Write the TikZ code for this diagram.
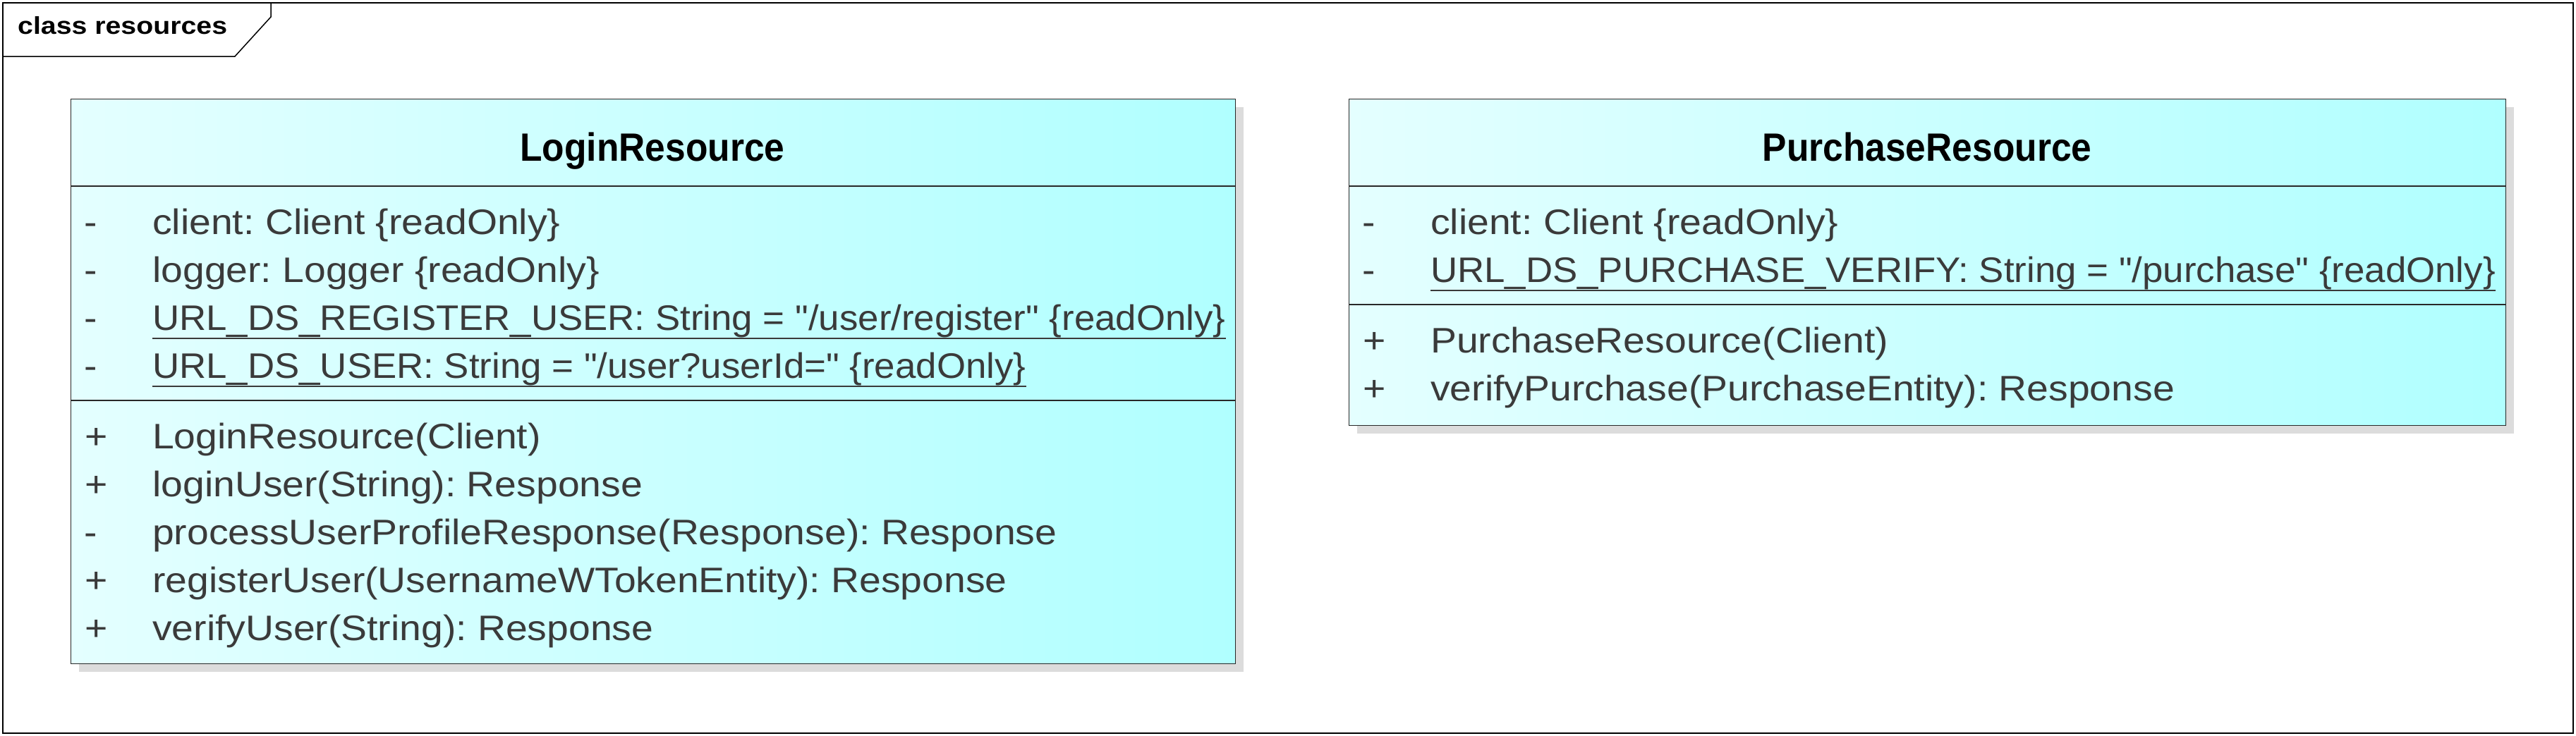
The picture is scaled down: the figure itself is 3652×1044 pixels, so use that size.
\documentclass[tikz,border=0pt]{standalone}
\usepackage{fontspec}
\setmainfont{Liberation Sans}
\newfontfamily\umlreg[FakeStretch=1.10]{Liberation Sans}
\newfontfamily\umlurl[FakeStretch=1.05]{Liberation Sans}
\newfontfamily\umlhead[FakeStretch=0.92]{Liberation Sans}
\newfontfamily\umlframe{Liberation Sans}
\usetikzlibrary{calc}
\frenchspacing
\definecolor{txt}{RGB}{58,58,58}
\definecolor{cl}{RGB}{228,255,255}
\definecolor{cr}{RGB}{176,255,255}
\definecolor{shd}{RGB}{220,220,220}
\definecolor{lnc}{RGB}{40,40,40}
\tikzset{
  classbox/.style={draw=lnc, line width=1.3pt, left color=cl, right color=cr, rectangle, inner sep=0pt, anchor=north west},
  shadowbox/.style={fill=shd, draw=none, rectangle, inner sep=0pt, anchor=north west},
  member/.style={anchor=base west, inner sep=0pt, text=txt, font=\umlreg\fontsize{50.3}{60}\selectfont},
  urlmember/.style={member, font=\umlurl\fontsize{50.3}{60}\selectfont},
  classname/.style={anchor=base, inner sep=0pt, text=black, font=\umlhead\bfseries\fontsize{56}{64}\selectfont},
  sepline/.style={draw=lnc, line width=1.3pt},
  uline/.style={draw=txt, line width=1.5pt},
  framestyle/.style={draw=black, line width=1.5pt},
  framelabel/.style={anchor=base west, inner sep=0pt, text=black, font=\umlframe\bfseries\fontsize{37}{44}\selectfont},
}
\begin{document}
\begin{tikzpicture}[x=1pt,y=-1pt]
\useasboundingbox (0,0) rectangle (3652,1044);
% frame
\draw[framestyle] (4,4) rectangle (3648,1040);
\draw[framestyle] (4,80) -- (333,80) -- (384,24) -- (384,4);
\node[framelabel] (frametitle) at (25,48) {\resizebox{297pt}{25pt}{class resources}};

% ---------- LoginResource ----------
\node[shadowbox, minimum width=1651pt, minimum height=801pt] (loginshadow) at (112,152) {};
\node[classbox, minimum width=1651pt, minimum height=801pt] (login) at (100,140) {};
\draw[sepline] ($(login.north west)+(0,124)$) -- ($(login.north east)+(0,124)$);
\draw[sepline] ($(login.north west)+(0,428)$) -- ($(login.north east)+(0,428)$);
\node[classname] (logintitle) at (925,228) {LoginResource};

\node[member] (lv1) at (119,332) {-};
\node[member] (la1) at (216,332) {client: Client \{readOnly\}};
\node[member] (lv2) at (119,400) {-};
\node[member] (la2) at (216,400) {logger: Logger \{readOnly\}};
\node[member] (lv3) at (119,468) {-};
\node[urlmember] (la3) at (216,468) {URL\_DS\_REGISTER\_USER: String = "/user/register" \{readOnly\}};
\node[member] (lv4) at (119,536) {-};
\node[urlmember] (la4) at (216,536) {URL\_DS\_USER: String = "/user?userId=" \{readOnly\}};
\draw[uline] ($(la3.base west)+(0,12)$) -- ($(la3.base east)+(0,12)$);
\draw[uline] ($(la4.base west)+(0,12)$) -- ($(la4.base east)+(0,12)$);

\node[member] (lmv1) at (120,636) {+};
\node[member] (lm1) at (216,636) {LoginResource(Client)};
\node[member] (lmv2) at (120,704) {+};
\node[member] (lm2) at (216,704) {loginUser(String): Response};
\node[member] (lmv3) at (119,772) {-};
\node[member] (lm3) at (216,772) {processUserProfileResponse(Response): Response};
\node[member] (lmv4) at (120,840) {+};
\node[member] (lm4) at (216,840) {registerUser(UsernameWTokenEntity): Response};
\node[member] (lmv5) at (120,908) {+};
\node[member] (lm5) at (216,908) {verifyUser(String): Response};

% ---------- PurchaseResource ----------
\node[shadowbox, minimum width=1640pt, minimum height=463pt] (purchaseshadow) at (1924,152) {};
\node[classbox, minimum width=1640pt, minimum height=463pt] (purchase) at (1912,140) {};
\draw[sepline] ($(purchase.north west)+(0,124)$) -- ($(purchase.north east)+(0,124)$);
\draw[sepline] ($(purchase.north west)+(0,292)$) -- ($(purchase.north east)+(0,292)$);
\node[classname] (purchasetitle) at (2732,228) {PurchaseResource};

\node[member] (pv1) at (1931,332) {-};
\node[member] (pa1) at (2028,332) {client: Client \{readOnly\}};
\node[member] (pv2) at (1931,400) {-};
\node[urlmember] (pa2) at (2028,400) {URL\_DS\_PURCHASE\_VERIFY: String = "/purchase" \{readOnly\}};
\draw[uline] ($(pa2.base west)+(0,12)$) -- ($(pa2.base east)+(0,12)$);

\node[member] (pmv1) at (1932,500) {+};
\node[member] (pm1) at (2028,500) {PurchaseResource(Client)};
\node[member] (pmv2) at (1932,568) {+};
\node[member] (pm2) at (2028,568) {verifyPurchase(PurchaseEntity): Response};
\end{tikzpicture}
\end{document}
